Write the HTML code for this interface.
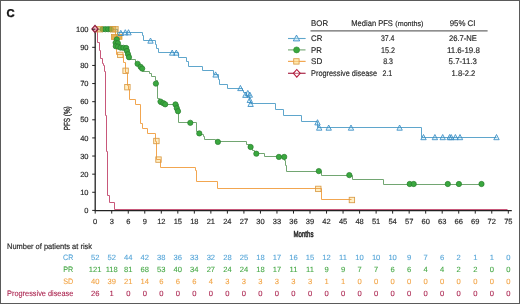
<!DOCTYPE html><html><head><meta charset="utf-8"><style>
html,body{margin:0;padding:0;background:#fff;}
body{width:520px;height:304px;overflow:hidden;}
svg{display:block;will-change:transform;}
text{font-family:"Liberation Sans", sans-serif;text-rendering:geometricPrecision;}
</style></head><body>
<svg width="520" height="304" viewBox="0 0 520 304">
<rect x="0" y="0" width="520" height="304" fill="#fff"/>
<rect x="0.5" y="0.5" width="519" height="303" fill="none" stroke="#5a5a5a" stroke-width="1"/>
<text x="6.6" y="16.8" font-size="11.3" font-weight="bold" fill="#111" stroke="#111" stroke-width="0.35" style="text-rendering:geometricPrecision">C</text>
<g fill="#ffeab0" fill-opacity="0.75" stroke="none">
<rect x="117.60" y="52.20" width="5.40" height="5.40"/>
<rect x="122.90" y="68.10" width="5.40" height="5.40"/>
<rect x="124.70" y="84.50" width="5.40" height="5.40"/>
<rect x="153.70" y="138.30" width="5.40" height="5.40"/>
<rect x="155.80" y="156.90" width="5.40" height="5.40"/>
<rect x="315.60" y="186.20" width="5.40" height="5.40"/>
<rect x="349.20" y="197.30" width="5.40" height="5.40"/>
</g>
<g fill="#d6f1fb" fill-opacity="0.8" stroke="none">
<path d="M120.80 30.30 L123.50 35.50 L118.10 35.50 Z"/>
<path d="M125.30 29.70 L128.00 34.90 L122.60 34.90 Z"/>
<path d="M128.50 29.70 L131.20 34.90 L125.80 34.90 Z"/>
<path d="M150.50 38.00 L153.20 43.20 L147.80 43.20 Z"/>
<path d="M172.20 50.00 L174.90 55.20 L169.50 55.20 Z"/>
<path d="M176.30 50.00 L179.00 55.20 L173.60 55.20 Z"/>
<path d="M215.60 71.90 L218.30 77.10 L212.90 77.10 Z"/>
<path d="M240.40 85.40 L243.10 90.60 L237.70 90.60 Z"/>
<path d="M245.40 92.20 L248.10 97.40 L242.70 97.40 Z"/>
<path d="M247.80 90.40 L250.50 95.60 L245.10 95.60 Z"/>
<path d="M249.80 92.00 L252.50 97.20 L247.10 97.20 Z"/>
<path d="M249.80 97.30 L252.50 102.50 L247.10 102.50 Z"/>
<path d="M250.60 101.30 L253.30 106.50 L247.90 106.50 Z"/>
<path d="M317.50 119.70 L320.20 124.90 L314.80 124.90 Z"/>
<path d="M319.20 125.00 L321.90 130.20 L316.50 130.20 Z"/>
<path d="M328.70 125.00 L331.40 130.20 L326.00 130.20 Z"/>
<path d="M351.00 125.00 L353.70 130.20 L348.30 130.20 Z"/>
<path d="M399.60 125.00 L402.30 130.20 L396.90 130.20 Z"/>
<path d="M423.50 134.50 L426.20 139.70 L420.80 139.70 Z"/>
<path d="M434.90 134.50 L437.60 139.70 L432.20 139.70 Z"/>
<path d="M442.70 134.50 L445.40 139.70 L440.00 139.70 Z"/>
<path d="M449.60 134.50 L452.30 139.70 L446.90 139.70 Z"/>
<path d="M451.20 134.50 L453.90 139.70 L448.50 139.70 Z"/>
<path d="M455.40 134.50 L458.10 139.70 L452.70 139.70 Z"/>
<path d="M460.00 134.50 L462.70 139.70 L457.30 139.70 Z"/>
<path d="M496.50 134.50 L499.20 139.70 L493.80 139.70 Z"/>
</g>
<g fill="none" stroke-width="1" stroke-linejoin="miter">
<path d="M95.50 29.50 L97.50 29.50 L97.50 42.50 L99.50 42.50 L99.50 50.50 L100.50 50.50 L100.50 58.50 L102.50 58.50 L102.50 63.50 L103.50 63.50 L103.50 65.50 L104.50 65.50 L104.50 71.50 L105.50 71.50 L105.50 115.50 L106.50 115.50 L106.50 151.50 L107.50 151.50 L107.50 195.50 L109.50 195.50 L109.50 202.50 L114.50 202.50 L114.50 209.50 L507.50 209.50" stroke="#c8587a"/>
<path d="M95.50 29.50 L115.50 29.50 L115.50 37.50 L116.50 37.50 L116.50 54.50 L123.50 54.50 L123.50 62.50 L125.50 62.50 L125.50 72.50 L127.50 72.50 L127.50 85.50 L128.50 85.50 L128.50 89.50 L129.50 89.50 L129.50 99.50 L135.50 99.50 L135.50 104.50 L140.50 104.50 L140.50 123.50 L142.50 123.50 L142.50 128.50 L147.50 128.50 L147.50 133.50 L155.50 133.50 L155.50 141.50 L156.50 141.50 L156.50 159.50 L160.50 159.50 L160.50 167.50 L195.50 167.50 L195.50 170.50 L196.50 170.50 L196.50 181.50 L217.50 181.50 L217.50 188.50 L321.50 188.50 L321.50 199.50 L351.50 199.50" stroke="#f2a650"/>
<path d="M95.50 29.50 L117.50 29.50 L117.50 38.50 L118.50 38.50 L118.50 47.50 L127.50 47.50 L127.50 53.50 L128.50 53.50 L128.50 59.50 L135.50 59.50 L135.50 62.50 L136.50 62.50 L136.50 64.50 L140.50 64.50 L140.50 68.50 L142.50 68.50 L142.50 71.50 L149.50 71.50 L149.50 73.50 L151.50 73.50 L151.50 76.50 L155.50 76.50 L155.50 80.50 L157.50 80.50 L157.50 98.50 L159.50 98.50 L159.50 104.50 L178.50 104.50 L178.50 122.50 L196.50 122.50 L196.50 131.50 L198.50 131.50 L198.50 134.50 L203.50 134.50 L203.50 136.50 L204.50 136.50 L204.50 139.50 L215.50 139.50 L215.50 141.50 L246.50 141.50 L246.50 144.50 L249.50 144.50 L249.50 148.50 L252.50 148.50 L252.50 150.50 L254.50 150.50 L254.50 153.50 L264.50 153.50 L264.50 156.50 L284.50 156.50 L284.50 160.50 L285.50 160.50 L285.50 165.50 L286.50 165.50 L286.50 171.50 L321.50 171.50 L321.50 175.50 L352.50 175.50 L352.50 179.50 L383.50 179.50 L383.50 184.50 L481.50 184.50" stroke="#72a672"/>
<path d="M95.50 29.50 L117.50 29.50 L117.50 32.50 L142.50 32.50 L142.50 35.50 L143.50 35.50 L143.50 40.50 L155.50 40.50 L155.50 44.50 L156.50 44.50 L156.50 48.50 L158.50 48.50 L158.50 52.50 L178.50 52.50 L178.50 57.50 L186.50 57.50 L186.50 61.50 L188.50 61.50 L188.50 66.50 L202.50 66.50 L202.50 70.50 L213.50 70.50 L213.50 74.50 L218.50 74.50 L218.50 79.50 L219.50 79.50 L219.50 84.50 L227.50 84.50 L227.50 88.50 L242.50 88.50 L242.50 90.50 L243.50 90.50 L243.50 92.50 L246.50 92.50 L246.50 96.50 L249.50 96.50 L249.50 100.50 L250.50 100.50 L250.50 103.50 L275.50 103.50 L275.50 109.50 L283.50 109.50 L283.50 115.50 L301.50 115.50 L301.50 121.50 L317.50 121.50 L317.50 127.50 L421.50 127.50 L421.50 137.50 L496.50 137.50" stroke="#5fa6cc"/>
</g>
<g fill="#e8b050" stroke="#d49530" stroke-width="0.7">
<rect x="111.40" y="34.50" width="5.00" height="5.00"/>
<rect x="117.00" y="34.30" width="5.00" height="5.00"/>
</g>
<g fill="#3aa83f" stroke="#2a7d2e" stroke-width="0.7">
<circle cx="102.60" cy="29.20" r="2.65"/>
<circle cx="105.40" cy="29.20" r="2.65"/>
<circle cx="108.20" cy="29.20" r="2.65"/>
<circle cx="110.80" cy="29.20" r="2.65"/>
<circle cx="116.80" cy="39.40" r="2.65"/>
<circle cx="115.60" cy="42.80" r="2.65"/>
<circle cx="117.90" cy="43.20" r="2.65"/>
<circle cx="115.80" cy="46.20" r="2.65"/>
<circle cx="118.00" cy="46.60" r="2.65"/>
<circle cx="120.60" cy="47.60" r="2.65"/>
<circle cx="123.40" cy="47.80" r="2.65"/>
<circle cx="126.20" cy="48.00" r="2.65"/>
<circle cx="127.00" cy="51.00" r="2.65"/>
<circle cx="128.00" cy="54.20" r="2.65"/>
<circle cx="129.00" cy="57.20" r="2.65"/>
<circle cx="137.60" cy="63.80" r="2.65"/>
<circle cx="140.60" cy="66.80" r="2.65"/>
<circle cx="142.20" cy="68.60" r="2.65"/>
<circle cx="155.90" cy="83.60" r="2.65"/>
<circle cx="160.50" cy="101.60" r="2.65"/>
<circle cx="163.40" cy="103.20" r="2.65"/>
<circle cx="165.20" cy="104.30" r="2.65"/>
<circle cx="175.50" cy="104.40" r="2.65"/>
<circle cx="176.80" cy="108.20" r="2.65"/>
<circle cx="178.00" cy="111.20" r="2.65"/>
<circle cx="190.30" cy="122.80" r="2.65"/>
<circle cx="199.30" cy="133.40" r="2.65"/>
<circle cx="217.90" cy="141.90" r="2.65"/>
<circle cx="250.60" cy="147.00" r="2.65"/>
<circle cx="256.30" cy="153.70" r="2.65"/>
<circle cx="278.90" cy="156.90" r="2.65"/>
<circle cx="284.20" cy="156.90" r="2.65"/>
<circle cx="318.80" cy="171.10" r="2.65"/>
<circle cx="349.30" cy="175.10" r="2.65"/>
<circle cx="409.70" cy="184.00" r="2.65"/>
<circle cx="413.70" cy="184.00" r="2.65"/>
<circle cx="447.80" cy="184.00" r="2.65"/>
<circle cx="458.90" cy="184.00" r="2.65"/>
<circle cx="481.50" cy="184.00" r="2.65"/>
</g>
<g fill="none" stroke="#d99a45" stroke-width="0.85">
<rect x="117.60" y="52.20" width="5.40" height="5.40"/>
<rect x="122.90" y="68.10" width="5.40" height="5.40"/>
<rect x="124.70" y="84.50" width="5.40" height="5.40"/>
<rect x="153.70" y="138.30" width="5.40" height="5.40"/>
<rect x="155.80" y="156.90" width="5.40" height="5.40"/>
<rect x="315.60" y="186.20" width="5.40" height="5.40"/>
<rect x="349.20" y="197.30" width="5.40" height="5.40"/>
</g>
<g fill="none" stroke="#3a8cc4" stroke-width="0.85">
<path d="M120.80 30.30 L123.50 35.50 L118.10 35.50 Z"/>
<path d="M125.30 29.70 L128.00 34.90 L122.60 34.90 Z"/>
<path d="M128.50 29.70 L131.20 34.90 L125.80 34.90 Z"/>
<path d="M150.50 38.00 L153.20 43.20 L147.80 43.20 Z"/>
<path d="M172.20 50.00 L174.90 55.20 L169.50 55.20 Z"/>
<path d="M176.30 50.00 L179.00 55.20 L173.60 55.20 Z"/>
<path d="M215.60 71.90 L218.30 77.10 L212.90 77.10 Z"/>
<path d="M240.40 85.40 L243.10 90.60 L237.70 90.60 Z"/>
<path d="M245.40 92.20 L248.10 97.40 L242.70 97.40 Z"/>
<path d="M247.80 90.40 L250.50 95.60 L245.10 95.60 Z"/>
<path d="M249.80 92.00 L252.50 97.20 L247.10 97.20 Z"/>
<path d="M249.80 97.30 L252.50 102.50 L247.10 102.50 Z"/>
<path d="M250.60 101.30 L253.30 106.50 L247.90 106.50 Z"/>
<path d="M317.50 119.70 L320.20 124.90 L314.80 124.90 Z"/>
<path d="M319.20 125.00 L321.90 130.20 L316.50 130.20 Z"/>
<path d="M328.70 125.00 L331.40 130.20 L326.00 130.20 Z"/>
<path d="M351.00 125.00 L353.70 130.20 L348.30 130.20 Z"/>
<path d="M399.60 125.00 L402.30 130.20 L396.90 130.20 Z"/>
<path d="M423.50 134.50 L426.20 139.70 L420.80 139.70 Z"/>
<path d="M434.90 134.50 L437.60 139.70 L432.20 139.70 Z"/>
<path d="M442.70 134.50 L445.40 139.70 L440.00 139.70 Z"/>
<path d="M449.60 134.50 L452.30 139.70 L446.90 139.70 Z"/>
<path d="M451.20 134.50 L453.90 139.70 L448.50 139.70 Z"/>
<path d="M455.40 134.50 L458.10 139.70 L452.70 139.70 Z"/>
<path d="M460.00 134.50 L462.70 139.70 L457.30 139.70 Z"/>
<path d="M496.50 134.50 L499.20 139.70 L493.80 139.70 Z"/>
</g>
<g fill="#d8a840" fill-opacity="0.55" stroke="#d89a40" stroke-width="0.7">
<rect x="96.60" y="26.40" width="5.60" height="5.60"/>
<rect x="110.10" y="26.40" width="5.60" height="5.60"/>
<rect x="112.60" y="26.40" width="5.60" height="5.60"/>
</g>
<g fill="#f3a0b4" fill-opacity="0.8" stroke="#8e1a3a" stroke-width="1.2">
<path d="M95.00 25.30 L98.10 28.90 L95.00 32.50 L91.90 28.90 Z"/>
</g>
<g stroke="#222" stroke-width="1" fill="none">
<line x1="95.2" y1="32.70" x2="95.2" y2="211.1" stroke-width="1.3"/>
<line x1="94.6" y1="210.6" x2="511.8" y2="210.6" stroke-width="1.1"/>
<line x1="92.2" y1="210.40" x2="95.2" y2="210.40"/>
<line x1="92.2" y1="192.28" x2="95.2" y2="192.28"/>
<line x1="92.2" y1="174.16" x2="95.2" y2="174.16"/>
<line x1="92.2" y1="156.04" x2="95.2" y2="156.04"/>
<line x1="92.2" y1="137.92" x2="95.2" y2="137.92"/>
<line x1="92.2" y1="119.80" x2="95.2" y2="119.80"/>
<line x1="92.2" y1="101.68" x2="95.2" y2="101.68"/>
<line x1="92.2" y1="83.56" x2="95.2" y2="83.56"/>
<line x1="92.2" y1="65.44" x2="95.2" y2="65.44"/>
<line x1="92.2" y1="47.32" x2="95.2" y2="47.32"/>
<line x1="92.2" y1="29.20" x2="95.2" y2="29.20"/>
<line x1="95.20" y1="210.6" x2="95.20" y2="213.6"/>
<line x1="111.72" y1="210.6" x2="111.72" y2="213.6"/>
<line x1="128.25" y1="210.6" x2="128.25" y2="213.6"/>
<line x1="144.77" y1="210.6" x2="144.77" y2="213.6"/>
<line x1="161.30" y1="210.6" x2="161.30" y2="213.6"/>
<line x1="177.82" y1="210.6" x2="177.82" y2="213.6"/>
<line x1="194.34" y1="210.6" x2="194.34" y2="213.6"/>
<line x1="210.87" y1="210.6" x2="210.87" y2="213.6"/>
<line x1="227.39" y1="210.6" x2="227.39" y2="213.6"/>
<line x1="243.92" y1="210.6" x2="243.92" y2="213.6"/>
<line x1="260.44" y1="210.6" x2="260.44" y2="213.6"/>
<line x1="276.96" y1="210.6" x2="276.96" y2="213.6"/>
<line x1="293.49" y1="210.6" x2="293.49" y2="213.6"/>
<line x1="310.01" y1="210.6" x2="310.01" y2="213.6"/>
<line x1="326.54" y1="210.6" x2="326.54" y2="213.6"/>
<line x1="343.06" y1="210.6" x2="343.06" y2="213.6"/>
<line x1="359.58" y1="210.6" x2="359.58" y2="213.6"/>
<line x1="376.11" y1="210.6" x2="376.11" y2="213.6"/>
<line x1="392.63" y1="210.6" x2="392.63" y2="213.6"/>
<line x1="409.16" y1="210.6" x2="409.16" y2="213.6"/>
<line x1="425.68" y1="210.6" x2="425.68" y2="213.6"/>
<line x1="442.20" y1="210.6" x2="442.20" y2="213.6"/>
<line x1="458.73" y1="210.6" x2="458.73" y2="213.6"/>
<line x1="475.25" y1="210.6" x2="475.25" y2="213.6"/>
<line x1="491.78" y1="210.6" x2="491.78" y2="213.6"/>
<line x1="508.30" y1="210.6" x2="508.30" y2="213.6"/>
</g>
<text x="88.50" y="213.05" font-size="7.50" fill="#262626" text-anchor="end" stroke="#262626" stroke-width="0.16">0</text>
<text x="88.50" y="194.93" font-size="7.50" fill="#262626" text-anchor="end" stroke="#262626" stroke-width="0.16">10</text>
<text x="88.50" y="176.81" font-size="7.50" fill="#262626" text-anchor="end" stroke="#262626" stroke-width="0.16">20</text>
<text x="88.50" y="158.69" font-size="7.50" fill="#262626" text-anchor="end" stroke="#262626" stroke-width="0.16">30</text>
<text x="88.50" y="140.57" font-size="7.50" fill="#262626" text-anchor="end" stroke="#262626" stroke-width="0.16">40</text>
<text x="88.50" y="122.45" font-size="7.50" fill="#262626" text-anchor="end" stroke="#262626" stroke-width="0.16">50</text>
<text x="88.50" y="104.33" font-size="7.50" fill="#262626" text-anchor="end" stroke="#262626" stroke-width="0.16">60</text>
<text x="88.50" y="86.21" font-size="7.50" fill="#262626" text-anchor="end" stroke="#262626" stroke-width="0.16">70</text>
<text x="88.50" y="68.09" font-size="7.50" fill="#262626" text-anchor="end" stroke="#262626" stroke-width="0.16">80</text>
<text x="88.50" y="49.97" font-size="7.50" fill="#262626" text-anchor="end" stroke="#262626" stroke-width="0.16">90</text>
<text x="88.50" y="31.85" font-size="7.50" fill="#262626" text-anchor="end" stroke="#262626" stroke-width="0.16">100</text>
<text x="95.20" y="223.50" font-size="7.50" fill="#262626" text-anchor="middle" stroke="#262626" stroke-width="0.16">0</text>
<text x="111.72" y="223.50" font-size="7.50" fill="#262626" text-anchor="middle" stroke="#262626" stroke-width="0.16">3</text>
<text x="128.25" y="223.50" font-size="7.50" fill="#262626" text-anchor="middle" stroke="#262626" stroke-width="0.16">6</text>
<text x="144.77" y="223.50" font-size="7.50" fill="#262626" text-anchor="middle" stroke="#262626" stroke-width="0.16">9</text>
<text x="161.30" y="223.50" font-size="7.50" fill="#262626" text-anchor="middle" stroke="#262626" stroke-width="0.16">12</text>
<text x="177.82" y="223.50" font-size="7.50" fill="#262626" text-anchor="middle" stroke="#262626" stroke-width="0.16">15</text>
<text x="194.34" y="223.50" font-size="7.50" fill="#262626" text-anchor="middle" stroke="#262626" stroke-width="0.16">18</text>
<text x="210.87" y="223.50" font-size="7.50" fill="#262626" text-anchor="middle" stroke="#262626" stroke-width="0.16">21</text>
<text x="227.39" y="223.50" font-size="7.50" fill="#262626" text-anchor="middle" stroke="#262626" stroke-width="0.16">24</text>
<text x="243.92" y="223.50" font-size="7.50" fill="#262626" text-anchor="middle" stroke="#262626" stroke-width="0.16">27</text>
<text x="260.44" y="223.50" font-size="7.50" fill="#262626" text-anchor="middle" stroke="#262626" stroke-width="0.16">30</text>
<text x="276.96" y="223.50" font-size="7.50" fill="#262626" text-anchor="middle" stroke="#262626" stroke-width="0.16">33</text>
<text x="293.49" y="223.50" font-size="7.50" fill="#262626" text-anchor="middle" stroke="#262626" stroke-width="0.16">36</text>
<text x="310.01" y="223.50" font-size="7.50" fill="#262626" text-anchor="middle" stroke="#262626" stroke-width="0.16">39</text>
<text x="326.54" y="223.50" font-size="7.50" fill="#262626" text-anchor="middle" stroke="#262626" stroke-width="0.16">42</text>
<text x="343.06" y="223.50" font-size="7.50" fill="#262626" text-anchor="middle" stroke="#262626" stroke-width="0.16">45</text>
<text x="359.58" y="223.50" font-size="7.50" fill="#262626" text-anchor="middle" stroke="#262626" stroke-width="0.16">48</text>
<text x="376.11" y="223.50" font-size="7.50" fill="#262626" text-anchor="middle" stroke="#262626" stroke-width="0.16">51</text>
<text x="392.63" y="223.50" font-size="7.50" fill="#262626" text-anchor="middle" stroke="#262626" stroke-width="0.16">54</text>
<text x="409.16" y="223.50" font-size="7.50" fill="#262626" text-anchor="middle" stroke="#262626" stroke-width="0.16">57</text>
<text x="425.68" y="223.50" font-size="7.50" fill="#262626" text-anchor="middle" stroke="#262626" stroke-width="0.16">60</text>
<text x="442.20" y="223.50" font-size="7.50" fill="#262626" text-anchor="middle" stroke="#262626" stroke-width="0.16">63</text>
<text x="458.73" y="223.50" font-size="7.50" fill="#262626" text-anchor="middle" stroke="#262626" stroke-width="0.16">66</text>
<text x="475.25" y="223.50" font-size="7.50" fill="#262626" text-anchor="middle" stroke="#262626" stroke-width="0.16">69</text>
<text x="491.78" y="223.50" font-size="7.50" fill="#262626" text-anchor="middle" stroke="#262626" stroke-width="0.16">72</text>
<text x="508.30" y="223.50" font-size="7.50" fill="#262626" text-anchor="middle" stroke="#262626" stroke-width="0.16">75</text>
<text x="0" y="0" font-size="8.8" fill="#262626" stroke="#262626" stroke-width="0.3" text-anchor="middle" transform="translate(69.8,118.3) rotate(-90) scale(0.72,1)">PFS (%)</text>
<text x="0" y="0" font-size="8.8" fill="#262626" stroke="#262626" stroke-width="0.5" text-anchor="middle" transform="translate(303.5,236.9) scale(0.69,1)">Months</text>
<text x="311.10" y="25.90" font-size="8.20" fill="#262626" textLength="17.00" lengthAdjust="spacingAndGlyphs" stroke="#262626" stroke-width="0.16">BOR</text>
<text x="351.30" y="25.90" font-size="8.20" fill="#262626" textLength="41.60" lengthAdjust="spacingAndGlyphs" stroke="#262626" stroke-width="0.16">Median PFS</text>
<text x="395.30" y="25.90" font-size="7.30" fill="#262626" textLength="28.20" lengthAdjust="spacingAndGlyphs" stroke="#262626" stroke-width="0.16">(months)</text>
<text x="449.70" y="25.90" font-size="8.20" fill="#262626" textLength="25.80" lengthAdjust="spacingAndGlyphs" stroke="#262626" stroke-width="0.16">95% CI</text>
<line x1="310.5" y1="30.8" x2="487.6" y2="30.8" stroke="#6a6a6a" stroke-width="1.2"/>
<line x1="288" y1="38.50" x2="305.5" y2="38.50" stroke="#5fa6cc" stroke-width="1.1"/>
<g fill="#d6f1fb" stroke="#3a8cc4" stroke-width="0.9"><path d="M296.50 35.10 L299.70 40.90 L293.30 40.90 Z"/></g>
<line x1="288" y1="38.50" x2="305.5" y2="38.50" stroke="#5fa6cc" stroke-width="1" stroke-opacity="0.6"/>
<line x1="288" y1="49.90" x2="305.5" y2="49.90" stroke="#72a672" stroke-width="1.1"/>
<g fill="#3aa83f" stroke="#2b8a31" stroke-width="0.6"><circle cx="296.60" cy="49.90" r="3.00"/></g>
<line x1="288" y1="61.40" x2="305.5" y2="61.40" stroke="#f2a650" stroke-width="1.1"/>
<g fill="#ffeab0" stroke="#d99a45" stroke-width="0.85"><rect x="293.70" y="58.70" width="5.40" height="5.40"/></g>
<line x1="288" y1="61.40" x2="305.5" y2="61.40" stroke="#f2a650" stroke-width="1" stroke-opacity="0.6"/>
<line x1="288" y1="73.30" x2="305.5" y2="73.30" stroke="#c8587a" stroke-width="1.1"/>
<g fill="#fff" stroke="#b81c3e" stroke-width="1.1"><path d="M296.80 69.50 L300.20 73.30 L296.80 77.10 L293.40 73.30 Z"/></g>
<line x1="288" y1="73.30" x2="305.5" y2="73.30" stroke="#a01c3a" stroke-width="1" stroke-opacity="0.7"/>
<text x="311.10" y="40.60" font-size="8.20" fill="#262626" textLength="11.20" lengthAdjust="spacingAndGlyphs" stroke="#262626" stroke-width="0.16">CR</text>
<text x="380.90" y="40.60" font-size="8.20" fill="#262626" textLength="13.60" lengthAdjust="spacingAndGlyphs" stroke="#262626" stroke-width="0.16">37.4</text>
<text x="448.90" y="40.60" font-size="8.20" fill="#262626" textLength="28.00" lengthAdjust="spacingAndGlyphs" stroke="#262626" stroke-width="0.16">26.7-NE</text>
<text x="311.10" y="53.00" font-size="8.20" fill="#262626" textLength="10.80" lengthAdjust="spacingAndGlyphs" stroke="#262626" stroke-width="0.16">PR</text>
<text x="380.90" y="53.00" font-size="8.20" fill="#262626" textLength="14.00" lengthAdjust="spacingAndGlyphs" stroke="#262626" stroke-width="0.16">15.2</text>
<text x="446.90" y="53.00" font-size="8.20" fill="#262626" textLength="33.00" lengthAdjust="spacingAndGlyphs" stroke="#262626" stroke-width="0.16">11.6-19.8</text>
<text x="311.10" y="64.20" font-size="8.20" fill="#262626" textLength="11.20" lengthAdjust="spacingAndGlyphs" stroke="#262626" stroke-width="0.16">SD</text>
<text x="383.20" y="64.20" font-size="8.20" fill="#262626" textLength="9.80" lengthAdjust="spacingAndGlyphs" stroke="#262626" stroke-width="0.16">8.3</text>
<text x="448.60" y="64.20" font-size="8.20" fill="#262626" textLength="28.20" lengthAdjust="spacingAndGlyphs" stroke="#262626" stroke-width="0.16">5.7-11.3</text>
<text x="311.10" y="75.60" font-size="8.20" fill="#262626" textLength="66.00" lengthAdjust="spacingAndGlyphs" stroke="#262626" stroke-width="0.16">Progressive disease</text>
<text x="382.50" y="75.60" font-size="8.20" fill="#262626" textLength="9.80" lengthAdjust="spacingAndGlyphs" stroke="#262626" stroke-width="0.16">2.1</text>
<text x="451.60" y="75.60" font-size="8.20" fill="#262626" textLength="23.70" lengthAdjust="spacingAndGlyphs" stroke="#262626" stroke-width="0.16">1.8-2.2</text>
<text x="7.00" y="248.70" font-size="7.90" fill="#262626" textLength="85.00" lengthAdjust="spacingAndGlyphs" stroke="#262626" stroke-width="0.16">Number of patients at risk</text>
<text x="73.30" y="259.80" font-size="7.90" fill="#55a5d8" text-anchor="end" textLength="10.20" lengthAdjust="spacingAndGlyphs" stroke="#55a5d8" stroke-width="0.10">CR</text>
<text x="95.20" y="259.80" font-size="7.60" fill="#55a5d8" text-anchor="middle" stroke="#55a5d8" stroke-width="0.10">52</text>
<text x="111.72" y="259.80" font-size="7.60" fill="#55a5d8" text-anchor="middle" stroke="#55a5d8" stroke-width="0.10">52</text>
<text x="128.25" y="259.80" font-size="7.60" fill="#55a5d8" text-anchor="middle" stroke="#55a5d8" stroke-width="0.10">44</text>
<text x="144.77" y="259.80" font-size="7.60" fill="#55a5d8" text-anchor="middle" stroke="#55a5d8" stroke-width="0.10">42</text>
<text x="161.30" y="259.80" font-size="7.60" fill="#55a5d8" text-anchor="middle" stroke="#55a5d8" stroke-width="0.10">38</text>
<text x="177.82" y="259.80" font-size="7.60" fill="#55a5d8" text-anchor="middle" stroke="#55a5d8" stroke-width="0.10">36</text>
<text x="194.34" y="259.80" font-size="7.60" fill="#55a5d8" text-anchor="middle" stroke="#55a5d8" stroke-width="0.10">33</text>
<text x="210.87" y="259.80" font-size="7.60" fill="#55a5d8" text-anchor="middle" stroke="#55a5d8" stroke-width="0.10">32</text>
<text x="227.39" y="259.80" font-size="7.60" fill="#55a5d8" text-anchor="middle" stroke="#55a5d8" stroke-width="0.10">28</text>
<text x="243.92" y="259.80" font-size="7.60" fill="#55a5d8" text-anchor="middle" stroke="#55a5d8" stroke-width="0.10">25</text>
<text x="260.44" y="259.80" font-size="7.60" fill="#55a5d8" text-anchor="middle" stroke="#55a5d8" stroke-width="0.10">18</text>
<text x="276.96" y="259.80" font-size="7.60" fill="#55a5d8" text-anchor="middle" stroke="#55a5d8" stroke-width="0.10">17</text>
<text x="293.49" y="259.80" font-size="7.60" fill="#55a5d8" text-anchor="middle" stroke="#55a5d8" stroke-width="0.10">16</text>
<text x="310.01" y="259.80" font-size="7.60" fill="#55a5d8" text-anchor="middle" stroke="#55a5d8" stroke-width="0.10">15</text>
<text x="326.54" y="259.80" font-size="7.60" fill="#55a5d8" text-anchor="middle" stroke="#55a5d8" stroke-width="0.10">12</text>
<text x="343.06" y="259.80" font-size="7.60" fill="#55a5d8" text-anchor="middle" stroke="#55a5d8" stroke-width="0.10">11</text>
<text x="359.58" y="259.80" font-size="7.60" fill="#55a5d8" text-anchor="middle" stroke="#55a5d8" stroke-width="0.10">10</text>
<text x="376.11" y="259.80" font-size="7.60" fill="#55a5d8" text-anchor="middle" stroke="#55a5d8" stroke-width="0.10">10</text>
<text x="392.63" y="259.80" font-size="7.60" fill="#55a5d8" text-anchor="middle" stroke="#55a5d8" stroke-width="0.10">10</text>
<text x="409.16" y="259.80" font-size="7.60" fill="#55a5d8" text-anchor="middle" stroke="#55a5d8" stroke-width="0.10">9</text>
<text x="425.68" y="259.80" font-size="7.60" fill="#55a5d8" text-anchor="middle" stroke="#55a5d8" stroke-width="0.10">7</text>
<text x="442.20" y="259.80" font-size="7.60" fill="#55a5d8" text-anchor="middle" stroke="#55a5d8" stroke-width="0.10">6</text>
<text x="458.73" y="259.80" font-size="7.60" fill="#55a5d8" text-anchor="middle" stroke="#55a5d8" stroke-width="0.10">2</text>
<text x="475.25" y="259.80" font-size="7.60" fill="#55a5d8" text-anchor="middle" stroke="#55a5d8" stroke-width="0.10">1</text>
<text x="491.78" y="259.80" font-size="7.60" fill="#55a5d8" text-anchor="middle" stroke="#55a5d8" stroke-width="0.10">1</text>
<text x="508.30" y="259.80" font-size="7.60" fill="#55a5d8" text-anchor="middle" stroke="#55a5d8" stroke-width="0.10">0</text>
<text x="73.30" y="271.80" font-size="7.90" fill="#45a845" text-anchor="end" textLength="10.00" lengthAdjust="spacingAndGlyphs" stroke="#45a845" stroke-width="0.10">PR</text>
<text x="95.20" y="271.80" font-size="7.60" fill="#45a845" text-anchor="middle" stroke="#45a845" stroke-width="0.10">121</text>
<text x="111.72" y="271.80" font-size="7.60" fill="#45a845" text-anchor="middle" stroke="#45a845" stroke-width="0.10">118</text>
<text x="128.25" y="271.80" font-size="7.60" fill="#45a845" text-anchor="middle" stroke="#45a845" stroke-width="0.10">81</text>
<text x="144.77" y="271.80" font-size="7.60" fill="#45a845" text-anchor="middle" stroke="#45a845" stroke-width="0.10">68</text>
<text x="161.30" y="271.80" font-size="7.60" fill="#45a845" text-anchor="middle" stroke="#45a845" stroke-width="0.10">53</text>
<text x="177.82" y="271.80" font-size="7.60" fill="#45a845" text-anchor="middle" stroke="#45a845" stroke-width="0.10">40</text>
<text x="194.34" y="271.80" font-size="7.60" fill="#45a845" text-anchor="middle" stroke="#45a845" stroke-width="0.10">34</text>
<text x="210.87" y="271.80" font-size="7.60" fill="#45a845" text-anchor="middle" stroke="#45a845" stroke-width="0.10">27</text>
<text x="227.39" y="271.80" font-size="7.60" fill="#45a845" text-anchor="middle" stroke="#45a845" stroke-width="0.10">24</text>
<text x="243.92" y="271.80" font-size="7.60" fill="#45a845" text-anchor="middle" stroke="#45a845" stroke-width="0.10">24</text>
<text x="260.44" y="271.80" font-size="7.60" fill="#45a845" text-anchor="middle" stroke="#45a845" stroke-width="0.10">18</text>
<text x="276.96" y="271.80" font-size="7.60" fill="#45a845" text-anchor="middle" stroke="#45a845" stroke-width="0.10">17</text>
<text x="293.49" y="271.80" font-size="7.60" fill="#45a845" text-anchor="middle" stroke="#45a845" stroke-width="0.10">11</text>
<text x="310.01" y="271.80" font-size="7.60" fill="#45a845" text-anchor="middle" stroke="#45a845" stroke-width="0.10">11</text>
<text x="326.54" y="271.80" font-size="7.60" fill="#45a845" text-anchor="middle" stroke="#45a845" stroke-width="0.10">9</text>
<text x="343.06" y="271.80" font-size="7.60" fill="#45a845" text-anchor="middle" stroke="#45a845" stroke-width="0.10">9</text>
<text x="359.58" y="271.80" font-size="7.60" fill="#45a845" text-anchor="middle" stroke="#45a845" stroke-width="0.10">7</text>
<text x="376.11" y="271.80" font-size="7.60" fill="#45a845" text-anchor="middle" stroke="#45a845" stroke-width="0.10">7</text>
<text x="392.63" y="271.80" font-size="7.60" fill="#45a845" text-anchor="middle" stroke="#45a845" stroke-width="0.10">6</text>
<text x="409.16" y="271.80" font-size="7.60" fill="#45a845" text-anchor="middle" stroke="#45a845" stroke-width="0.10">6</text>
<text x="425.68" y="271.80" font-size="7.60" fill="#45a845" text-anchor="middle" stroke="#45a845" stroke-width="0.10">4</text>
<text x="442.20" y="271.80" font-size="7.60" fill="#45a845" text-anchor="middle" stroke="#45a845" stroke-width="0.10">4</text>
<text x="458.73" y="271.80" font-size="7.60" fill="#45a845" text-anchor="middle" stroke="#45a845" stroke-width="0.10">2</text>
<text x="475.25" y="271.80" font-size="7.60" fill="#45a845" text-anchor="middle" stroke="#45a845" stroke-width="0.10">2</text>
<text x="491.78" y="271.80" font-size="7.60" fill="#45a845" text-anchor="middle" stroke="#45a845" stroke-width="0.10">0</text>
<text x="508.30" y="271.80" font-size="7.60" fill="#45a845" text-anchor="middle" stroke="#45a845" stroke-width="0.10">0</text>
<text x="73.30" y="283.80" font-size="7.90" fill="#f2a445" text-anchor="end" textLength="10.00" lengthAdjust="spacingAndGlyphs" stroke="#f2a445" stroke-width="0.10">SD</text>
<text x="95.20" y="283.80" font-size="7.60" fill="#f2a445" text-anchor="middle" stroke="#f2a445" stroke-width="0.10">40</text>
<text x="111.72" y="283.80" font-size="7.60" fill="#f2a445" text-anchor="middle" stroke="#f2a445" stroke-width="0.10">39</text>
<text x="128.25" y="283.80" font-size="7.60" fill="#f2a445" text-anchor="middle" stroke="#f2a445" stroke-width="0.10">21</text>
<text x="144.77" y="283.80" font-size="7.60" fill="#f2a445" text-anchor="middle" stroke="#f2a445" stroke-width="0.10">14</text>
<text x="161.30" y="283.80" font-size="7.60" fill="#f2a445" text-anchor="middle" stroke="#f2a445" stroke-width="0.10">6</text>
<text x="177.82" y="283.80" font-size="7.60" fill="#f2a445" text-anchor="middle" stroke="#f2a445" stroke-width="0.10">6</text>
<text x="194.34" y="283.80" font-size="7.60" fill="#f2a445" text-anchor="middle" stroke="#f2a445" stroke-width="0.10">6</text>
<text x="210.87" y="283.80" font-size="7.60" fill="#f2a445" text-anchor="middle" stroke="#f2a445" stroke-width="0.10">4</text>
<text x="227.39" y="283.80" font-size="7.60" fill="#f2a445" text-anchor="middle" stroke="#f2a445" stroke-width="0.10">3</text>
<text x="243.92" y="283.80" font-size="7.60" fill="#f2a445" text-anchor="middle" stroke="#f2a445" stroke-width="0.10">3</text>
<text x="260.44" y="283.80" font-size="7.60" fill="#f2a445" text-anchor="middle" stroke="#f2a445" stroke-width="0.10">3</text>
<text x="276.96" y="283.80" font-size="7.60" fill="#f2a445" text-anchor="middle" stroke="#f2a445" stroke-width="0.10">3</text>
<text x="293.49" y="283.80" font-size="7.60" fill="#f2a445" text-anchor="middle" stroke="#f2a445" stroke-width="0.10">3</text>
<text x="310.01" y="283.80" font-size="7.60" fill="#f2a445" text-anchor="middle" stroke="#f2a445" stroke-width="0.10">3</text>
<text x="326.54" y="283.80" font-size="7.60" fill="#f2a445" text-anchor="middle" stroke="#f2a445" stroke-width="0.10">1</text>
<text x="343.06" y="283.80" font-size="7.60" fill="#f2a445" text-anchor="middle" stroke="#f2a445" stroke-width="0.10">1</text>
<text x="359.58" y="283.80" font-size="7.60" fill="#f2a445" text-anchor="middle" stroke="#f2a445" stroke-width="0.10">0</text>
<text x="376.11" y="283.80" font-size="7.60" fill="#f2a445" text-anchor="middle" stroke="#f2a445" stroke-width="0.10">0</text>
<text x="392.63" y="283.80" font-size="7.60" fill="#f2a445" text-anchor="middle" stroke="#f2a445" stroke-width="0.10">0</text>
<text x="409.16" y="283.80" font-size="7.60" fill="#f2a445" text-anchor="middle" stroke="#f2a445" stroke-width="0.10">0</text>
<text x="425.68" y="283.80" font-size="7.60" fill="#f2a445" text-anchor="middle" stroke="#f2a445" stroke-width="0.10">0</text>
<text x="442.20" y="283.80" font-size="7.60" fill="#f2a445" text-anchor="middle" stroke="#f2a445" stroke-width="0.10">0</text>
<text x="458.73" y="283.80" font-size="7.60" fill="#f2a445" text-anchor="middle" stroke="#f2a445" stroke-width="0.10">0</text>
<text x="475.25" y="283.80" font-size="7.60" fill="#f2a445" text-anchor="middle" stroke="#f2a445" stroke-width="0.10">0</text>
<text x="491.78" y="283.80" font-size="7.60" fill="#f2a445" text-anchor="middle" stroke="#f2a445" stroke-width="0.10">0</text>
<text x="508.30" y="283.80" font-size="7.60" fill="#f2a445" text-anchor="middle" stroke="#f2a445" stroke-width="0.10">0</text>
<text x="73.30" y="295.80" font-size="7.90" fill="#ab2550" text-anchor="end" textLength="66.20" lengthAdjust="spacingAndGlyphs" stroke="#ab2550" stroke-width="0.10">Progressive disease</text>
<text x="95.20" y="295.80" font-size="7.60" fill="#ab2550" text-anchor="middle" stroke="#ab2550" stroke-width="0.10">26</text>
<text x="111.72" y="295.80" font-size="7.60" fill="#ab2550" text-anchor="middle" stroke="#ab2550" stroke-width="0.10">1</text>
<text x="128.25" y="295.80" font-size="7.60" fill="#ab2550" text-anchor="middle" stroke="#ab2550" stroke-width="0.10">0</text>
<text x="144.77" y="295.80" font-size="7.60" fill="#ab2550" text-anchor="middle" stroke="#ab2550" stroke-width="0.10">0</text>
<text x="161.30" y="295.80" font-size="7.60" fill="#ab2550" text-anchor="middle" stroke="#ab2550" stroke-width="0.10">0</text>
<text x="177.82" y="295.80" font-size="7.60" fill="#ab2550" text-anchor="middle" stroke="#ab2550" stroke-width="0.10">0</text>
<text x="194.34" y="295.80" font-size="7.60" fill="#ab2550" text-anchor="middle" stroke="#ab2550" stroke-width="0.10">0</text>
<text x="210.87" y="295.80" font-size="7.60" fill="#ab2550" text-anchor="middle" stroke="#ab2550" stroke-width="0.10">0</text>
<text x="227.39" y="295.80" font-size="7.60" fill="#ab2550" text-anchor="middle" stroke="#ab2550" stroke-width="0.10">0</text>
<text x="243.92" y="295.80" font-size="7.60" fill="#ab2550" text-anchor="middle" stroke="#ab2550" stroke-width="0.10">0</text>
<text x="260.44" y="295.80" font-size="7.60" fill="#ab2550" text-anchor="middle" stroke="#ab2550" stroke-width="0.10">0</text>
<text x="276.96" y="295.80" font-size="7.60" fill="#ab2550" text-anchor="middle" stroke="#ab2550" stroke-width="0.10">0</text>
<text x="293.49" y="295.80" font-size="7.60" fill="#ab2550" text-anchor="middle" stroke="#ab2550" stroke-width="0.10">0</text>
<text x="310.01" y="295.80" font-size="7.60" fill="#ab2550" text-anchor="middle" stroke="#ab2550" stroke-width="0.10">0</text>
<text x="326.54" y="295.80" font-size="7.60" fill="#ab2550" text-anchor="middle" stroke="#ab2550" stroke-width="0.10">0</text>
<text x="343.06" y="295.80" font-size="7.60" fill="#ab2550" text-anchor="middle" stroke="#ab2550" stroke-width="0.10">0</text>
<text x="359.58" y="295.80" font-size="7.60" fill="#ab2550" text-anchor="middle" stroke="#ab2550" stroke-width="0.10">0</text>
<text x="376.11" y="295.80" font-size="7.60" fill="#ab2550" text-anchor="middle" stroke="#ab2550" stroke-width="0.10">0</text>
<text x="392.63" y="295.80" font-size="7.60" fill="#ab2550" text-anchor="middle" stroke="#ab2550" stroke-width="0.10">0</text>
<text x="409.16" y="295.80" font-size="7.60" fill="#ab2550" text-anchor="middle" stroke="#ab2550" stroke-width="0.10">0</text>
<text x="425.68" y="295.80" font-size="7.60" fill="#ab2550" text-anchor="middle" stroke="#ab2550" stroke-width="0.10">0</text>
<text x="442.20" y="295.80" font-size="7.60" fill="#ab2550" text-anchor="middle" stroke="#ab2550" stroke-width="0.10">0</text>
<text x="458.73" y="295.80" font-size="7.60" fill="#ab2550" text-anchor="middle" stroke="#ab2550" stroke-width="0.10">0</text>
<text x="475.25" y="295.80" font-size="7.60" fill="#ab2550" text-anchor="middle" stroke="#ab2550" stroke-width="0.10">0</text>
<text x="491.78" y="295.80" font-size="7.60" fill="#ab2550" text-anchor="middle" stroke="#ab2550" stroke-width="0.10">0</text>
<text x="508.30" y="295.80" font-size="7.60" fill="#ab2550" text-anchor="middle" stroke="#ab2550" stroke-width="0.10">0</text>
</svg></body></html>
